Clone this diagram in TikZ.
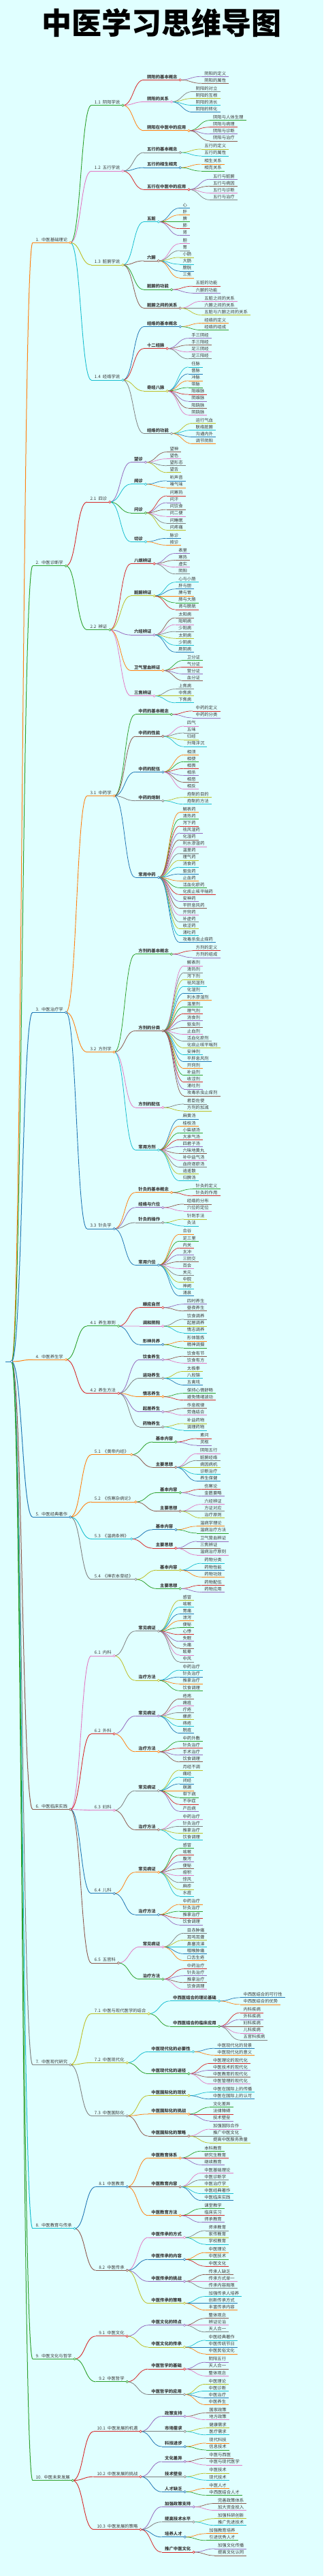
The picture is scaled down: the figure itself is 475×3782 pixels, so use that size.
\documentclass[tikz,border=0pt]{standalone}
\usepackage{fontspec}
\setmainfont{Noto Sans CJK SC}
\definecolor{bg}{HTML}{E0FFFF}
\definecolor{txt}{HTML}{3A3A3A}
\definecolor{c0}{HTML}{1F77B4}
\definecolor{c1}{HTML}{FF7F0E}
\definecolor{c2}{HTML}{2CA02C}
\definecolor{c3}{HTML}{D62728}
\definecolor{c4}{HTML}{9467BD}
\definecolor{c5}{HTML}{8C564B}
\definecolor{c6}{HTML}{E377C2}
\definecolor{c7}{HTML}{7F7F7F}
\definecolor{c8}{HTML}{BCBD22}
\definecolor{c9}{HTML}{17BECF}
\tikzset{
  lbl/.style={anchor=base west, inner sep=0pt, text=txt},
  dot/.style={fill=white, line width=0.6pt},
}
\newcommand\nsp{\hspace{3.1pt}}
\newcount\nid \nid=-1
\newcount\depth \depth=0
\newdimen\nodew
\def\nexty{112.3}
\def\lastpar{-1}
\def\childx{8.2}
\def\myid{-1}
\def\kids{}
\def\firsty{}
\def\lasty{}
\def\nfont{\fontsize{6.35}{7.5}\selectfont\ifnum\depth=4 \bfseries\fi}
\newcommand\T[2]{%
  \begingroup
  \global\advance\nid by 1
  \let\parid\myid
  \edef\myid{\the\nid}%
  \advance\depth by 1
  \pgfmathtruncatemacro\mycol{mod(\myid,10)}%
  \edef\mylw{\ifcase\depth 1\or 1.0\or 1.0\or 0.9\or 0.8\else 0.7\fi}%
  \edef\kidlw{\ifcase\depth 1\or 1.0\or 0.9\or 0.8\else 0.7\fi}%
  \setbox0\hbox{\pgfinterruptpicture\nfont #1\endpgfinterruptpicture}%
  \nodew=\wd0 \advance\nodew by 8.8pt
  \edef\myx{\childx}%
  \pgfmathsetmacro\myw{\nodew}%
  \pgfmathsetmacro\childx{\myx+\myw+31}%
  \def\kids{}\def\firsty{}\def\lasty{}%
  #2%
  \ifx\kids\empty
    \ifnum\lastpar=\parid\relax
      \edef\myy{\nexty}%
    \else
      \ifnum\lastpar=-1 \edef\myy{\nexty}\else
        \pgfmathsetmacro\myy{\nexty+2.05}\fi
    \fi
    \xdef\lastpar{\parid}%
    \pgfmathsetmacro\tmpy{\myy+10.05}\xdef\nexty{\tmpy}%
  \else
    \pgfmathsetmacro\myy{(\firsty+\lasty)/2}%
  \fi
  \coordinate (s\myid) at (\myx,\myy);
  \coordinate (e\myid) at (\myx+\myw,\myy);
  \ifx\kids\empty\else
    \foreach \kk/\kc in \kids {\draw[line width=\kidlw pt,color=c\kc] (e\myid) .. controls ([xshift=15.5pt]e\myid) and ([xshift=-15.5pt]s\kk) .. (s\kk);}%
  \fi
  \draw[line width=\mylw pt,color=c\mycol] (s\myid) -- (e\myid);
  \node[lbl,font=\nfont] (t\myid) at ([xshift=4.5pt,yshift=2.2pt]s\myid) {#1};
  \ifx\kids\empty\else
    \draw[color=c\mycol,dot] (e\myid) circle[radius=1.7pt];
  \fi
  \xdef\retid{\myid}\xdef\rety{\myy}\xdef\retcol{\mycol}%
  \endgroup
  \addkid}
\def\addkid{%
  \ifx\firsty\empty\let\firsty\rety\fi
  \let\lasty\rety
  \ifx\kids\empty \edef\kids{\retid/\retcol}\else \edef\kids{\kids,\retid/\retcol}\fi}
\def\Lend{\Lend}
\def\LendX{\Lend}
\def\Ls#1{\LsA#1,\Lend,}
\def\LsA#1,{\def\Larg{#1}\ifx\Larg\LendX\else\T{#1}{}\expandafter\LsA\fi}
\begin{document}
\begin{tikzpicture}[x=1pt,y=-1pt]
\fill[bg] (0,0) rectangle (475,3782);
\useasboundingbox (0,0) rectangle (475,3782);
\node[font=\fontsize{44}{50}\selectfont\bfseries, text=black, inner sep=0pt] (title) at (237,34) {中医学习思维导图};
\T{}{%
\T{1.\nsp 中医基础理论}{%
\T{1.1\nsp 阴阳学说}{%
\T{阴阳的基本概念}{\Ls{阴阳的定义,阴阳的属性}}%
\T{阴阳的关系}{\Ls{阴阳的对立,阴阳的互根,阴阳的消长,阴阳的转化}}%
\T{阴阳在中医中的应用}{\Ls{阴阳与人体生理,阴阳与病理,阴阳与诊断,阴阳与治疗}}}%
\T{1.2\nsp 五行学说}{%
\T{五行的基本概念}{\Ls{五行的定义,五行的属性}}%
\T{五行的相生相克}{\Ls{相生关系,相克关系}}%
\T{五行在中医中的应用}{\Ls{五行与脏腑,五行与病因,五行与诊断,五行与治疗}}}%
\T{1.3\nsp 脏腑学说}{%
\T{五脏}{\Ls{心,肝,脾,肺,肾}}%
\T{六腑}{\Ls{胆,胃,小肠,大肠,膀胱,三焦}}%
\T{脏腑的功能}{\Ls{五脏的功能,六腑的功能}}%
\T{脏腑之间的关系}{\Ls{五脏之间的关系,六腑之间的关系,五脏与六腑之间的关系}}}%
\T{1.4\nsp 经络学说}{%
\T{经络的基本概念}{\Ls{经络的定义,经络的组成}}%
\T{十二经脉}{\Ls{手三阴经,手三阳经,足三阴经,足三阳经}}%
\T{奇经八脉}{\Ls{任脉,督脉,冲脉,带脉,阳维脉,阴维脉,阳跷脉,阴跷脉}}%
\T{经络的功能}{\Ls{运行气血,联络脏腑,沟通内外,调节阴阳}}}}%
\T{2.\nsp 中医诊断学}{%
\T{2.1\nsp 四诊}{%
\T{望诊}{\Ls{望神,望色,望形态,望舌}}%
\T{闻诊}{\Ls{听声音,嗅气味}}%
\T{问诊}{\Ls{问寒热,问汗,问饮食,问二便,问睡眠,问疼痛}}%
\T{切诊}{\Ls{脉诊,按诊}}}%
\T{2.2\nsp 辨证}{%
\T{八纲辨证}{\Ls{表里,寒热,虚实,阴阳}}%
\T{脏腑辨证}{\Ls{心与小肠,肝与胆,脾与胃,肺与大肠,肾与膀胱}}%
\T{六经辨证}{\Ls{太阳病,阳明病,少阳病,太阴病,少阴病,厥阴病}}%
\T{卫气营血辨证}{\Ls{卫分证,气分证,营分证,血分证}}%
\T{三焦辨证}{\Ls{上焦病,中焦病,下焦病}}}}%
\T{3.\nsp 中医治疗学}{%
\T{3.1\nsp 中药学}{%
\T{中药的基本概念}{\Ls{中药的定义,中药的分类}}%
\T{中药的性能}{\Ls{四气,五味,归经,升降浮沉}}%
\T{中药的配伍}{\Ls{相须,相使,相畏,相杀,相恶,相反}}%
\T{中药的炮制}{\Ls{炮制的目的,炮制的方法}}%
\T{常用中药}{\Ls{解表药,清热药,泻下药,祛风湿药,化湿药,利水渗湿药,温里药,理气药,消食药,驱虫药,止血药,活血化瘀药,化痰止咳平喘药,安神药,平肝息风药,开窍药,补虚药,收涩药,涌吐药,攻毒杀虫止痒药}}}%
\T{3.2\nsp 方剂学}{%
\T{方剂的基本概念}{\Ls{方剂的定义,方剂的组成}}%
\T{方剂的分类}{\Ls{解表剂,清热剂,泻下剂,祛风湿剂,化湿剂,利水渗湿剂,温里剂,理气剂,消食剂,驱虫剂,止血剂,活血化瘀剂,化痰止咳平喘剂,安神剂,平肝息风剂,开窍剂,补益剂,收涩剂,涌吐剂,攻毒杀虫止痒剂}}%
\T{方剂的配伍}{\Ls{君臣佐使,方剂的加减}}%
\T{常用方剂}{\Ls{麻黄汤,桂枝汤,小柴胡汤,大承气汤,四君子汤,六味地黄丸,补中益气汤,血府逐瘀汤,逍遥散,归脾汤}}}%
\T{3.3\nsp 针灸学}{%
\T{针灸的基本概念}{\Ls{针灸的定义,针灸的作用}}%
\T{经络与穴位}{\Ls{经络的分布,穴位的定位}}%
\T{针灸的操作}{\Ls{针刺手法,灸法}}%
\T{常用穴位}{\Ls{合谷,足三里,内关,太冲,三阴交,百会,关元,中脘,神阙,涌泉}}}}%
\T{4.\nsp 中医养生学}{%
\T{4.1\nsp 养生原则}{%
\T{顺应自然}{\Ls{四时养生,昼夜养生}}%
\T{调和阴阳}{\Ls{饮食调养,起居调养,情志调养}}%
\T{形神共养}{\Ls{形体锻炼,精神调摄}}}%
\T{4.2\nsp 养生方法}{%
\T{饮食养生}{\Ls{饮食有节,饮食有方}}%
\T{运动养生}{\Ls{太极拳,八段锦,五禽戏}}%
\T{情志养生}{\Ls{保持心情舒畅,避免情绪波动}}%
\T{起居养生}{\Ls{作息规律,劳逸结合}}%
\T{药物养生}{\Ls{补益药物,调理药物}}}}%
\T{5.\nsp 中医经典著作}{%
\T{5.1\nsp 《黄帝内经》}{%
\T{基本内容}{\Ls{素问,灵枢}}%
\T{主要思想}{\Ls{阴阳五行,脏腑经络,病因病机,诊断治疗,养生保健}}}%
\T{5.2\nsp 《伤寒杂病论》}{%
\T{基本内容}{\Ls{伤寒论,金匮要略}}%
\T{主要思想}{\Ls{六经辨证,方证对应,治疗原则}}}%
\T{5.3\nsp 《温病条辨》}{%
\T{基本内容}{\Ls{温病学理论,温病治疗方法}}%
\T{主要思想}{\Ls{卫气营血辨证,三焦辨证,温病治疗原则}}}%
\T{5.4\nsp 《神农本草经》}{%
\T{基本内容}{\Ls{药物分类,药物性能,药物功效}}%
\T{主要思想}{\Ls{药物配伍,药物应用}}}}%
\T{6.\nsp 中医临床实践}{%
\T{6.1\nsp 内科}{%
\T{常见病证}{\Ls{感冒,咳嗽,胃痛,泄泻,便秘,心悸,失眠,头痛,眩晕,中风}}%
\T{治疗方法}{\Ls{中药治疗,针灸治疗,推拿治疗,饮食调理}}}%
\T{6.2\nsp 外科}{%
\T{常见病证}{\Ls{疮疡,痈疽,疔疮,瘰疬,痔疮,脱疽}}%
\T{治疗方法}{\Ls{中药外敷,针灸治疗,手术治疗,饮食调理}}}%
\T{6.3\nsp 妇科}{%
\T{常见病证}{\Ls{月经不调,痛经,闭经,崩漏,带下病,不孕症,产后病}}%
\T{治疗方法}{\Ls{中药治疗,针灸治疗,推拿治疗,饮食调理}}}%
\T{6.4\nsp 儿科}{%
\T{常见病证}{\Ls{感冒,咳嗽,腹泻,便秘,疳积,惊风,麻疹,水痘}}%
\T{治疗方法}{\Ls{中药治疗,针灸治疗,推拿治疗,饮食调理}}}%
\T{6.5\nsp 五官科}{%
\T{常见病证}{\Ls{目赤肿痛,耳鸣耳聋,鼻塞流涕,咽喉肿痛,口舌生疮}}%
\T{治疗方法}{\Ls{中药治疗,针灸治疗,推拿治疗,饮食调理}}}}%
\T{7.\nsp 中医现代研究}{%
\T{7.1\nsp 中医与现代医学的结合}{%
\T{中西医结合的理论基础}{\Ls{中西医结合的可行性,中西医结合的优势}}%
\T{中西医结合的临床应用}{\Ls{内科疾病,外科疾病,妇科疾病,儿科疾病,五官科疾病}}}%
\T{7.2\nsp 中医现代化}{%
\T{中医现代化的必要性}{\Ls{中医现代化的背景,中医现代化的意义}}%
\T{中医现代化的途径}{\Ls{中医理论的现代化,中医技术的现代化,中医教育的现代化,中医管理的现代化}}}%
\T{7.3\nsp 中医国际化}{%
\T{中医国际化的现状}{\Ls{中医在国际上的传播,中医在国际上的认可}}%
\T{中医国际化的挑战}{\Ls{文化差异,法律障碍,技术壁垒}}%
\T{中医国际化的策略}{\Ls{加强国际合作,推广中医文化,提高中医服务质量}}}}%
\T{8.\nsp 中医教育与传承}{%
\T{8.1\nsp 中医教育}{%
\T{中医教育体系}{\Ls{本科教育,研究生教育,继续教育}}%
\T{中医教育内容}{\Ls{中医基础理论,中医诊断学,中医治疗学,中医经典著作,中医临床实践}}%
\T{中医教育方法}{\Ls{课堂教学,临床实习,师承教育}}}%
\T{8.2\nsp 中医传承}{%
\T{中医传承的方式}{\Ls{师承教育,家传教育,学校教育}}%
\T{中医传承的内容}{\Ls{中医理论,中医技术,中医文化}}%
\T{中医传承的挑战}{\Ls{传承人缺乏,传承方式单一,传承内容局限}}%
\T{中医传承的策略}{\Ls{加强传承人培养,创新传承方式,丰富传承内容}}}}%
\T{9.\nsp 中医文化与哲学}{%
\T{9.1\nsp 中医文化}{%
\T{中医文化的特点}{\Ls{整体观念,辨证论治,天人合一}}%
\T{中医文化的传承}{\Ls{中医经典著作,中医传统节日,中医民俗文化}}}%
\T{9.2\nsp 中医哲学}{%
\T{中医哲学的基础}{\Ls{阴阳五行,天人合一,整体观念}}%
\T{中医哲学的应用}{\Ls{中医理论,中医诊断,中医治疗,中医养生}}}}%
\T{10.\nsp 中医未来发展}{%
\T{10.1\nsp 中医发展的机遇}{%
\T{政策支持}{\Ls{国家政策,地方政策}}%
\T{市场需求}{\Ls{健康需求,医疗需求}}%
\T{科技进步}{\Ls{现代科技,信息技术}}}%
\T{10.2\nsp 中医发展的挑战}{%
\T{文化差异}{\Ls{中医与西医,中医与现代医学}}%
\T{技术壁垒}{\Ls{中医技术,现代技术}}%
\T{人才缺乏}{\Ls{中医人才,中西医结合人才}}}%
\T{10.3\nsp 中医发展的策略}{%
\T{加强政策支持}{\Ls{完善政策体系,加大资金投入}}%
\T{提高技术水平}{\Ls{加强科研创新,推广先进技术}}%
\T{培养人才}{\Ls{加强教育培养,引进优秀人才}}%
\T{推广中医文化}{\Ls{加强文化传播,提高文化认同}}}}%
}
\end{tikzpicture}
\end{document}
